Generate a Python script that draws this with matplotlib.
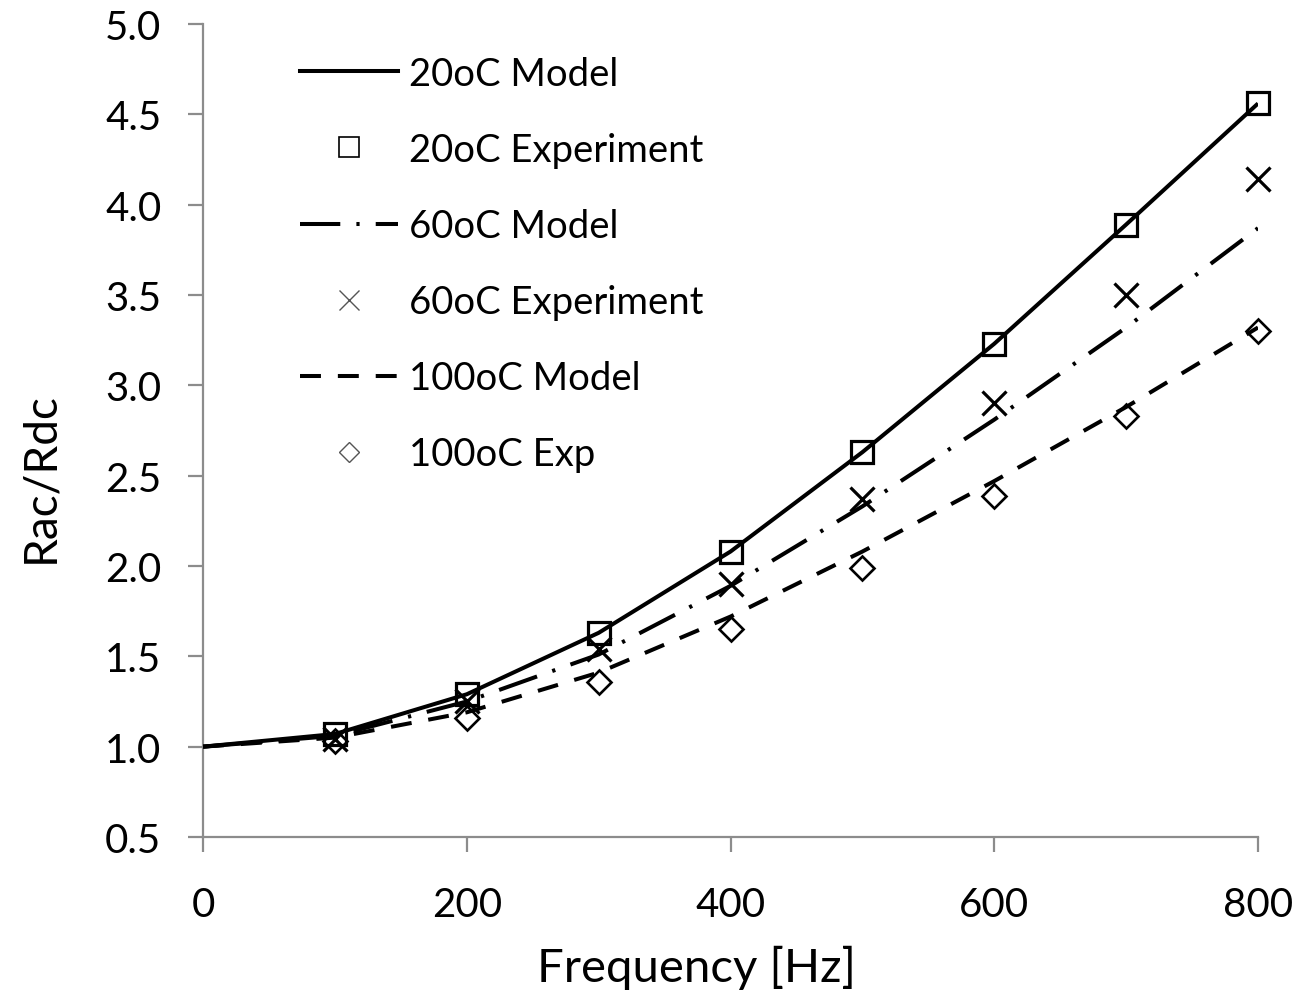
import matplotlib
matplotlib.use('Agg')
import matplotlib.pyplot as plt
from matplotlib.lines import Line2D

plt.rcParams['font.family'] = ['Lato', 'DejaVu Sans']

# Frequency points [Hz]
freq_model = [0, 100, 200, 300, 400, 500, 600, 700, 800]
freq_exp = [100, 200, 300, 400, 500, 600, 700, 800]

# Model curves (Rac/Rdc)
model_20 = [1.00, 1.07, 1.29, 1.63, 2.08, 2.63, 3.23, 3.89, 4.56]
model_60 = [1.00, 1.06, 1.25, 1.51, 1.89, 2.33, 2.81, 3.32, 3.87]
model_100 = [1.00, 1.05, 1.19, 1.41, 1.72, 2.08, 2.47, 2.88, 3.32]

# Experimental points
exp_20 = [1.07, 1.29, 1.63, 2.08, 2.63, 3.23, 3.89, 4.56]
exp_60 = [1.04, 1.25, 1.54, 1.90, 2.37, 2.90, 3.50, 4.14]
exp_100 = [1.03, 1.16, 1.36, 1.65, 1.99, 2.39, 2.83, 3.30]

AXIS_GREY = '#8c8c8c'
LW = 2.9

fig = plt.figure(figsize=(13.05, 9.95), dpi=100)
ax = fig.add_axes([0.1556, 0.1578, 0.8084, 0.8171])

ax.plot(freq_model, model_20, color='black', lw=LW, solid_capstyle='butt', zorder=3)
ax.plot(freq_model, model_60, color='black', lw=LW, dashes=(10, 4, 0.8, 4),
        dash_capstyle='butt', zorder=3)
ax.plot(freq_model, model_100, color='black', lw=LW, dashes=(5.2, 4.2),
        dash_capstyle='butt', zorder=3)

ax.plot(freq_exp, exp_20, ls='none', marker='s', ms=16.5, mfc='none',
        mec='black', mew=2.3, zorder=4, clip_on=False)
ax.plot(freq_exp, exp_60, ls='none', marker='x', ms=17, mec='black',
        mew=2.3, zorder=4, clip_on=False)
ax.plot(freq_exp, exp_100, ls='none', marker='D', ms=12.5, mfc='none',
        mec='black', mew=1.9, zorder=4, clip_on=False)

ax.set_xlim(0, 800)
ax.set_ylim(0.5, 5.0)
ax.set_xticks(range(0, 801, 200))
ax.set_yticks([0.5 + 0.5 * i for i in range(10)])
ax.set_yticklabels([f'{0.5 + 0.5 * i:.1f}' for i in range(10)])

for side in ('top', 'right'):
    ax.spines[side].set_visible(False)
for side in ('left', 'bottom'):
    ax.spines[side].set_color(AXIS_GREY)
    ax.spines[side].set_linewidth(1.6)
ax.tick_params(axis='both', colors=AXIS_GREY, length=11, width=1.6,
               labelsize=29, labelcolor='black')
ax.tick_params(axis='y', pad=19)
ax.tick_params(axis='x', pad=24)

ax.set_xlabel('Frequency [Hz]', fontsize=34)
ax.set_ylabel('Rac/Rdc', fontsize=33)
ax.xaxis.set_label_coords(0.468, -0.132)
ax.yaxis.set_label_coords(-0.134, 0.443)

handles = [
    Line2D([], [], color='black', lw=LW),
    Line2D([], [], ls='none', marker='s', ms=14, mfc='none', mec='black', mew=1.2),
    Line2D([], [], color='black', lw=LW, dashes=(10, 4, 0.8, 4)),
    Line2D([], [], ls='none', marker='x', ms=15, mec='#555555', mew=1.0),
    Line2D([], [], color='black', lw=LW, dashes=(5.2, 4.2)),
    Line2D([], [], ls='none', marker='D', ms=10.5, mfc='none', mec='#555555', mew=1.0),
]
labels = ['20oC Model', '20oC Experiment', '60oC Model', '60oC Experiment',
          '100oC Model', '100oC Exp']
ax.legend(handles, labels, loc='upper left', bbox_to_anchor=(0.0776, 0.9797),
          frameon=False, fontsize=27.5, handlelength=2.55, handletextpad=0.31,
          labelspacing=1.05, borderaxespad=0.0)

fig.savefig('out.png', dpi=100)
